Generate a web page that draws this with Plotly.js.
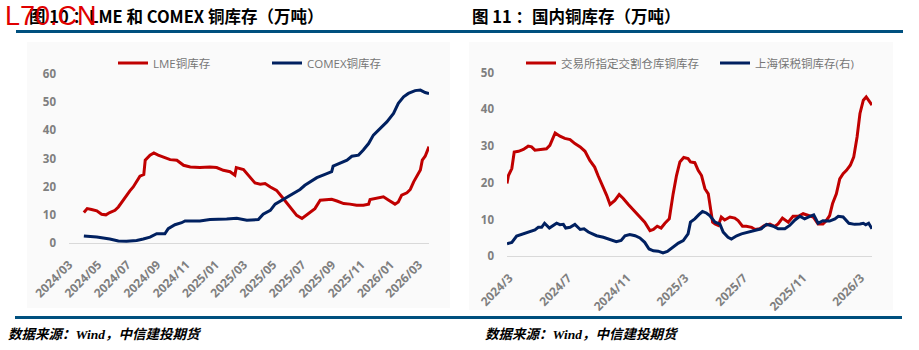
<!DOCTYPE html>
<html>
<head>
<meta charset="utf-8">
<script src="https://cdn.plot.ly/plotly-3.0.1.min.js"></script>
<style>
html,body{margin:0;padding:0;background:#fff;}
#chart{width:919px;height:350px;}
</style>
</head>
<body>
<div id="chart"></div>
<script>
// ---------- Data (万吨) ----------
const lmeDates = ['2024-04-01','2024-04-08','2024-04-17','2024-04-28','2024-05-08','2024-05-17','2024-05-25','2024-06-05','2024-06-12','2024-06-19','2024-06-26','2024-07-06','2024-07-13','2024-07-20','2024-07-27','2024-08-04','2024-08-07','2024-08-17','2024-08-25','2024-09-03','2024-09-14','2024-09-28','2024-10-12','2024-10-26','2024-11-09','2024-11-29','2024-12-20','2025-01-03','2025-01-17','2025-01-31','2025-02-10','2025-02-13','2025-02-28','2025-03-07','2025-03-14','2025-03-24','2025-04-04','2025-04-14','2025-04-25','2025-05-08','2025-05-19','2025-05-29','2025-06-09','2025-06-19','2025-06-30','2025-07-06','2025-07-17','2025-07-27','2025-08-07','2025-08-21','2025-08-31','2025-09-11','2025-09-25','2025-10-08','2025-10-22','2025-11-05','2025-11-16','2025-11-19','2025-11-30','2025-12-10','2025-12-17','2025-12-28','2026-01-10','2026-01-17','2026-01-24','2026-02-04','2026-02-11','2026-02-18','2026-02-25','2026-03-04','2026-03-08','2026-03-14','2026-03-22'];
const lmeValues = [10.8,12.2,11.9,11.4,10.2,10.0,10.8,11.6,12.8,14.6,16.4,18.5,19.9,21.7,23.7,24.3,29.4,31.2,32.0,31.2,30.4,29.6,29.4,27.6,27.0,26.8,27.0,26.8,25.8,25.3,24.1,26.8,26.1,24.7,22.9,21.3,20.9,21.1,19.9,18.7,16.4,14.2,11.9,9.8,8.7,9.5,11.0,12.2,15.2,15.4,15.5,14.9,14.0,13.8,13.4,13.4,13.8,15.4,15.8,16.4,16.4,15.2,13.8,14.6,17.0,17.8,19.0,21.7,24.1,25.9,29.4,30.8,34.2];

const comexDates = ['2024-04-01','2024-04-28','2024-05-25','2024-06-12','2024-06-29','2024-07-20','2024-08-03','2024-08-17','2024-08-31','2024-09-17','2024-09-24','2024-10-08','2024-10-22','2024-10-29','2024-11-29','2024-12-20','2025-01-24','2025-02-14','2025-03-07','2025-03-31','2025-04-10','2025-04-25','2025-05-05','2025-05-15','2025-05-29','2025-06-12','2025-06-26','2025-07-06','2025-07-17','2025-07-31','2025-08-17','2025-08-31','2025-09-03','2025-09-17','2025-10-02','2025-10-12','2025-10-26','2025-11-05','2025-11-16','2025-11-26','2025-12-10','2025-12-24','2026-01-07','2026-01-17','2026-01-28','2026-02-07','2026-02-21','2026-03-04','2026-03-14','2026-03-22'];
const comexValues = [2.5,2.1,1.4,0.7,0.6,0.9,1.4,2.1,3.3,3.3,5.1,6.5,7.2,7.8,7.8,8.3,8.5,8.8,8.1,8.3,10.2,11.6,13.8,14.8,16.4,17.6,19.0,20.5,21.7,23.2,24.4,25.3,27.3,28.2,29.4,30.8,31.2,33.0,35.3,38.3,40.7,43.0,46.0,49.6,51.9,53.1,54.1,54.3,53.4,53.1];

const warehouseDates = ['2024-02-25','2024-02-28','2024-03-06','2024-03-11','2024-03-20','2024-03-30','2024-04-09','2024-04-16','2024-04-23','2024-05-07','2024-05-17','2024-05-24','2024-06-04','2024-06-14','2024-06-24','2024-07-05','2024-07-15','2024-07-26','2024-08-05','2024-08-15','2024-08-25','2024-09-01','2024-09-12','2024-09-19','2024-09-26','2024-10-06','2024-10-15','2024-10-23','2024-11-03','2024-11-13','2024-11-27','2024-12-07','2024-12-18','2024-12-25','2025-01-02','2025-01-10','2025-01-18','2025-01-27','2025-02-04','2025-02-11','2025-02-18','2025-02-26','2025-03-07','2025-03-12','2025-03-21','2025-03-28','2025-04-04','2025-04-11','2025-04-18','2025-04-23','2025-04-27','2025-05-02','2025-05-09','2025-05-15','2025-05-22','2025-06-02','2025-06-12','2025-06-19','2025-06-28','2025-07-06','2025-07-17','2025-07-24','2025-08-03','2025-08-13','2025-08-24','2025-09-03','2025-09-10','2025-09-19','2025-10-01','2025-10-11','2025-10-22','2025-11-01','2025-11-11','2025-11-22','2025-12-02','2025-12-12','2025-12-19','2025-12-26','2026-01-01','2026-01-09','2026-01-16','2026-01-23','2026-01-30','2026-02-07','2026-02-14','2026-02-21','2026-02-27','2026-03-06','2026-03-12','2026-03-19','2026-03-24'];
const warehouseValues = [19.8,22.0,23.9,28.4,28.6,29.1,30.0,29.8,28.9,29.1,29.3,30.2,33.6,32.7,32.1,31.8,30.7,29.8,28.6,26.1,24.3,22.0,18.9,16.6,14.1,15.2,16.8,15.8,14.1,12.7,10.9,9.3,7.0,7.3,8.2,7.7,9.0,10.2,17.0,22.0,25.7,26.9,26.6,25.7,25.5,23.4,22.0,18.4,17.0,12.5,9.3,8.8,8.4,10.7,9.9,10.7,10.4,9.7,8.2,8.2,7.9,7.3,7.5,8.4,8.8,8.1,8.8,10.4,9.3,10.9,10.9,11.6,11.1,10.7,8.8,8.8,9.7,11.1,14.3,17.0,21.1,22.5,23.4,24.8,27.0,32.5,38.9,42.5,43.4,42.1,41.2];

const bondedDates = ['2024-02-25','2024-03-06','2024-03-16','2024-03-30','2024-04-13','2024-04-23','2024-04-30','2024-05-07','2024-05-13','2024-05-23','2024-06-07','2024-06-14','2024-06-21','2024-06-26','2024-07-05','2024-07-15','2024-07-26','2024-08-03','2024-08-12','2024-08-29','2024-09-12','2024-09-26','2024-10-09','2024-10-19','2024-10-27','2024-11-06','2024-11-17','2024-11-27','2024-12-07','2024-12-16','2024-12-25','2025-01-04','2025-01-14','2025-01-23','2025-02-04','2025-02-15','2025-02-25','2025-03-07','2025-03-12','2025-03-21','2025-03-30','2025-04-06','2025-04-14','2025-04-21','2025-05-02','2025-05-12','2025-05-19','2025-05-29','2025-06-05','2025-06-16','2025-06-26','2025-07-10','2025-07-24','2025-08-06','2025-08-17','2025-08-31','2025-09-10','2025-09-24','2025-10-04','2025-10-15','2025-10-25','2025-11-04','2025-11-15','2025-11-23','2025-12-02','2025-12-12','2025-12-26','2026-01-06','2026-01-13','2026-01-23','2026-02-04','2026-02-16','2026-02-27','2026-03-06','2026-03-11','2026-03-17','2026-03-24'];
const bondedValues = [3.4,3.8,5.5,6.1,6.6,7.2,7.9,7.9,9.0,7.7,9.0,8.6,8.7,7.7,7.9,8.7,7.3,7.5,6.6,5.6,5.2,4.5,4.0,4.3,5.6,5.9,5.6,5.0,3.8,2.0,1.5,1.4,0.9,1.3,2.5,3.6,4.3,6.1,9.3,10.2,11.4,12.2,11.8,11.1,9.3,8.8,6.6,5.2,4.7,5.6,6.1,6.6,7.0,7.5,8.7,8.2,7.5,7.5,8.4,9.9,10.9,10.2,10.9,11.3,9.0,9.7,9.6,10.2,10.9,10.7,9.0,8.7,8.8,9.0,8.6,9.0,7.5];

const seriesNames = ['LME铜库存','COMEX铜库存','交易所指定交割仓库铜库存','上海保税铜库存(右)'];
const titles = ['图 10 ：LME 和 COMEX 铜库存（万吨）','图 11 ：国内铜库存（万吨）'];
const sourceText = '数据来源：Wind，中信建投期货';

// ---------- Styles ----------
const RED = '#c00000', NAVY = '#002060', RULE = '#00507f';
const W = 919, H = 350;
const px = x => x / W, py = y => 1 - y / H;

const tickFontX = {family:'Open Sans, Noto Sans CJK SC', size:12, color:'#7f7f7f', weight:'bold'};
const tickFontY = {family:'Open Sans, Noto Sans CJK SC', size:11.5, color:'#7f7f7f', weight:'bold'};
const legFont = {family:'Open Sans, Noto Sans CJK SC', size:11.5, color:'#767676'};

const traces = [
  {x: lmeDates, y: lmeValues, name: seriesNames[0], type:'scatter', mode:'lines', line:{color:RED, width:3}, xaxis:'x', yaxis:'y', legend:'legend'},
  {x: comexDates, y: comexValues, name: seriesNames[1], type:'scatter', mode:'lines', line:{color:NAVY, width:3}, xaxis:'x', yaxis:'y', legend:'legend2'},
  {x: warehouseDates, y: warehouseValues, name: seriesNames[2], type:'scatter', mode:'lines', line:{color:RED, width:3}, xaxis:'x2', yaxis:'y2', legend:'legend3'},
  {x: bondedDates, y: bondedValues, name: seriesNames[3], type:'scatter', mode:'lines', line:{color:NAVY, width:3}, xaxis:'x2', yaxis:'y2', legend:'legend4'}
];

function leg(x, y){
  return {x: px(x), y: py(y), xanchor:'left', yanchor:'middle', orientation:'h', font: legFont, bgcolor:'rgba(0,0,0,0)', borderwidth:0};
}

const layout = {
  width: W, height: H,
  margin: {l:0, r:0, t:0, b:0},
  paper_bgcolor: '#ffffff',
  plot_bgcolor: 'rgba(0,0,0,0)',
  showlegend: true,
  legend: leg(113, 63),
  legend2: leg(267, 63),
  legend3: leg(521, 63),
  legend4: leg(715, 63),
  xaxis: {
    type:'date', domain:[px(69), px(429)], range:['2024-03-01','2026-03-22'],
    tick0:'2024-03-01', dtick:'M2', tickformat:'%Y/%m', tickangle:-45,
    showgrid:false, zeroline:false, showline:true, linecolor:'#d9d9d9', linewidth:1,
    ticks:'', tickfont: tickFontX, anchor:'y', ticklabelstandoff: 9
  },
  yaxis: {
    domain:[py(243), py(74)], range:[0,60], dtick:10,
    showgrid:false, zeroline:false, showline:false, ticks:'',
    tickfont: tickFontY, anchor:'x', ticklabelstandoff: 12
  },
  xaxis2: {
    type:'date', domain:[px(507), px(872)], range:['2024-02-25','2026-03-24'],
    tick0:'2024-03-01', dtick:'M4', tickformat:'%Y/%-m', tickangle:-45,
    showgrid:false, zeroline:false, showline:true, linecolor:'#d9d9d9', linewidth:1,
    ticks:'', tickfont: tickFontX, anchor:'y2', ticklabelstandoff: 9
  },
  yaxis2: {
    domain:[py(256.3), py(72.7)], range:[0,50], dtick:10,
    showgrid:false, zeroline:false, showline:false, ticks:'',
    tickfont: tickFontY, anchor:'x2', ticklabelstandoff: 12
  },
  shapes: [
    {type:'rect', xref:'paper', yref:'paper', x0:px(27), x1:px(450), y0:py(308), y1:py(42), fillcolor:'#fafafa', line:{width:0}, layer:'below'},
    {type:'rect', xref:'paper', yref:'paper', x0:px(469), x1:px(893), y0:py(310), y1:py(42), fillcolor:'#fafafa', line:{width:0}, layer:'below'},
    {type:'line', xref:'paper', yref:'paper', x0:px(16), x1:px(903), y0:py(31.5), y1:py(31.5), line:{color:RULE, width:3}},
    {type:'line', xref:'paper', yref:'paper', x0:px(15), x1:px(902), y0:py(317.5), y1:py(317.5), line:{color:RULE, width:3}}
  ],
  annotations: [
    {text: titles[0], xref:'paper', yref:'paper', x:px(27), y:py(16), xanchor:'left', yanchor:'middle', showarrow:false,
     font:{family:'Noto Sans CJK SC', size:16.5, color:'#000', weight:'bold'}},
    {text: titles[1], xref:'paper', yref:'paper', x:px(470), y:py(16), xanchor:'left', yanchor:'middle', showarrow:false,
     font:{family:'Noto Sans CJK SC', size:16.5, color:'#000', weight:'bold'}},
    {text: sourceText, xref:'paper', yref:'paper', x:px(6), y:py(334), xanchor:'left', yanchor:'middle', showarrow:false,
     font:{family:'Liberation Serif, Noto Sans CJK SC', size:13.5, color:'#000', weight:'bold', style:'italic'}},
    {text: sourceText, xref:'paper', yref:'paper', x:px(483), y:py(334), xanchor:'left', yanchor:'middle', showarrow:false,
     font:{family:'Liberation Serif, Noto Sans CJK SC', size:13.5, color:'#000', weight:'bold', style:'italic'}},
    {text: 'L70.CN', xref:'paper', yref:'paper', x:px(3), y:py(16), xanchor:'left', yanchor:'middle', showarrow:false,
     font:{family:'DejaVu Sans ExtraLight, Liberation Sans', size:27, color:'#e00000', weight:200}}
  ]
};

Plotly.newPlot('chart', traces, layout, {displayModeBar:false, staticPlot:true});
</script>
</body>
</html>
